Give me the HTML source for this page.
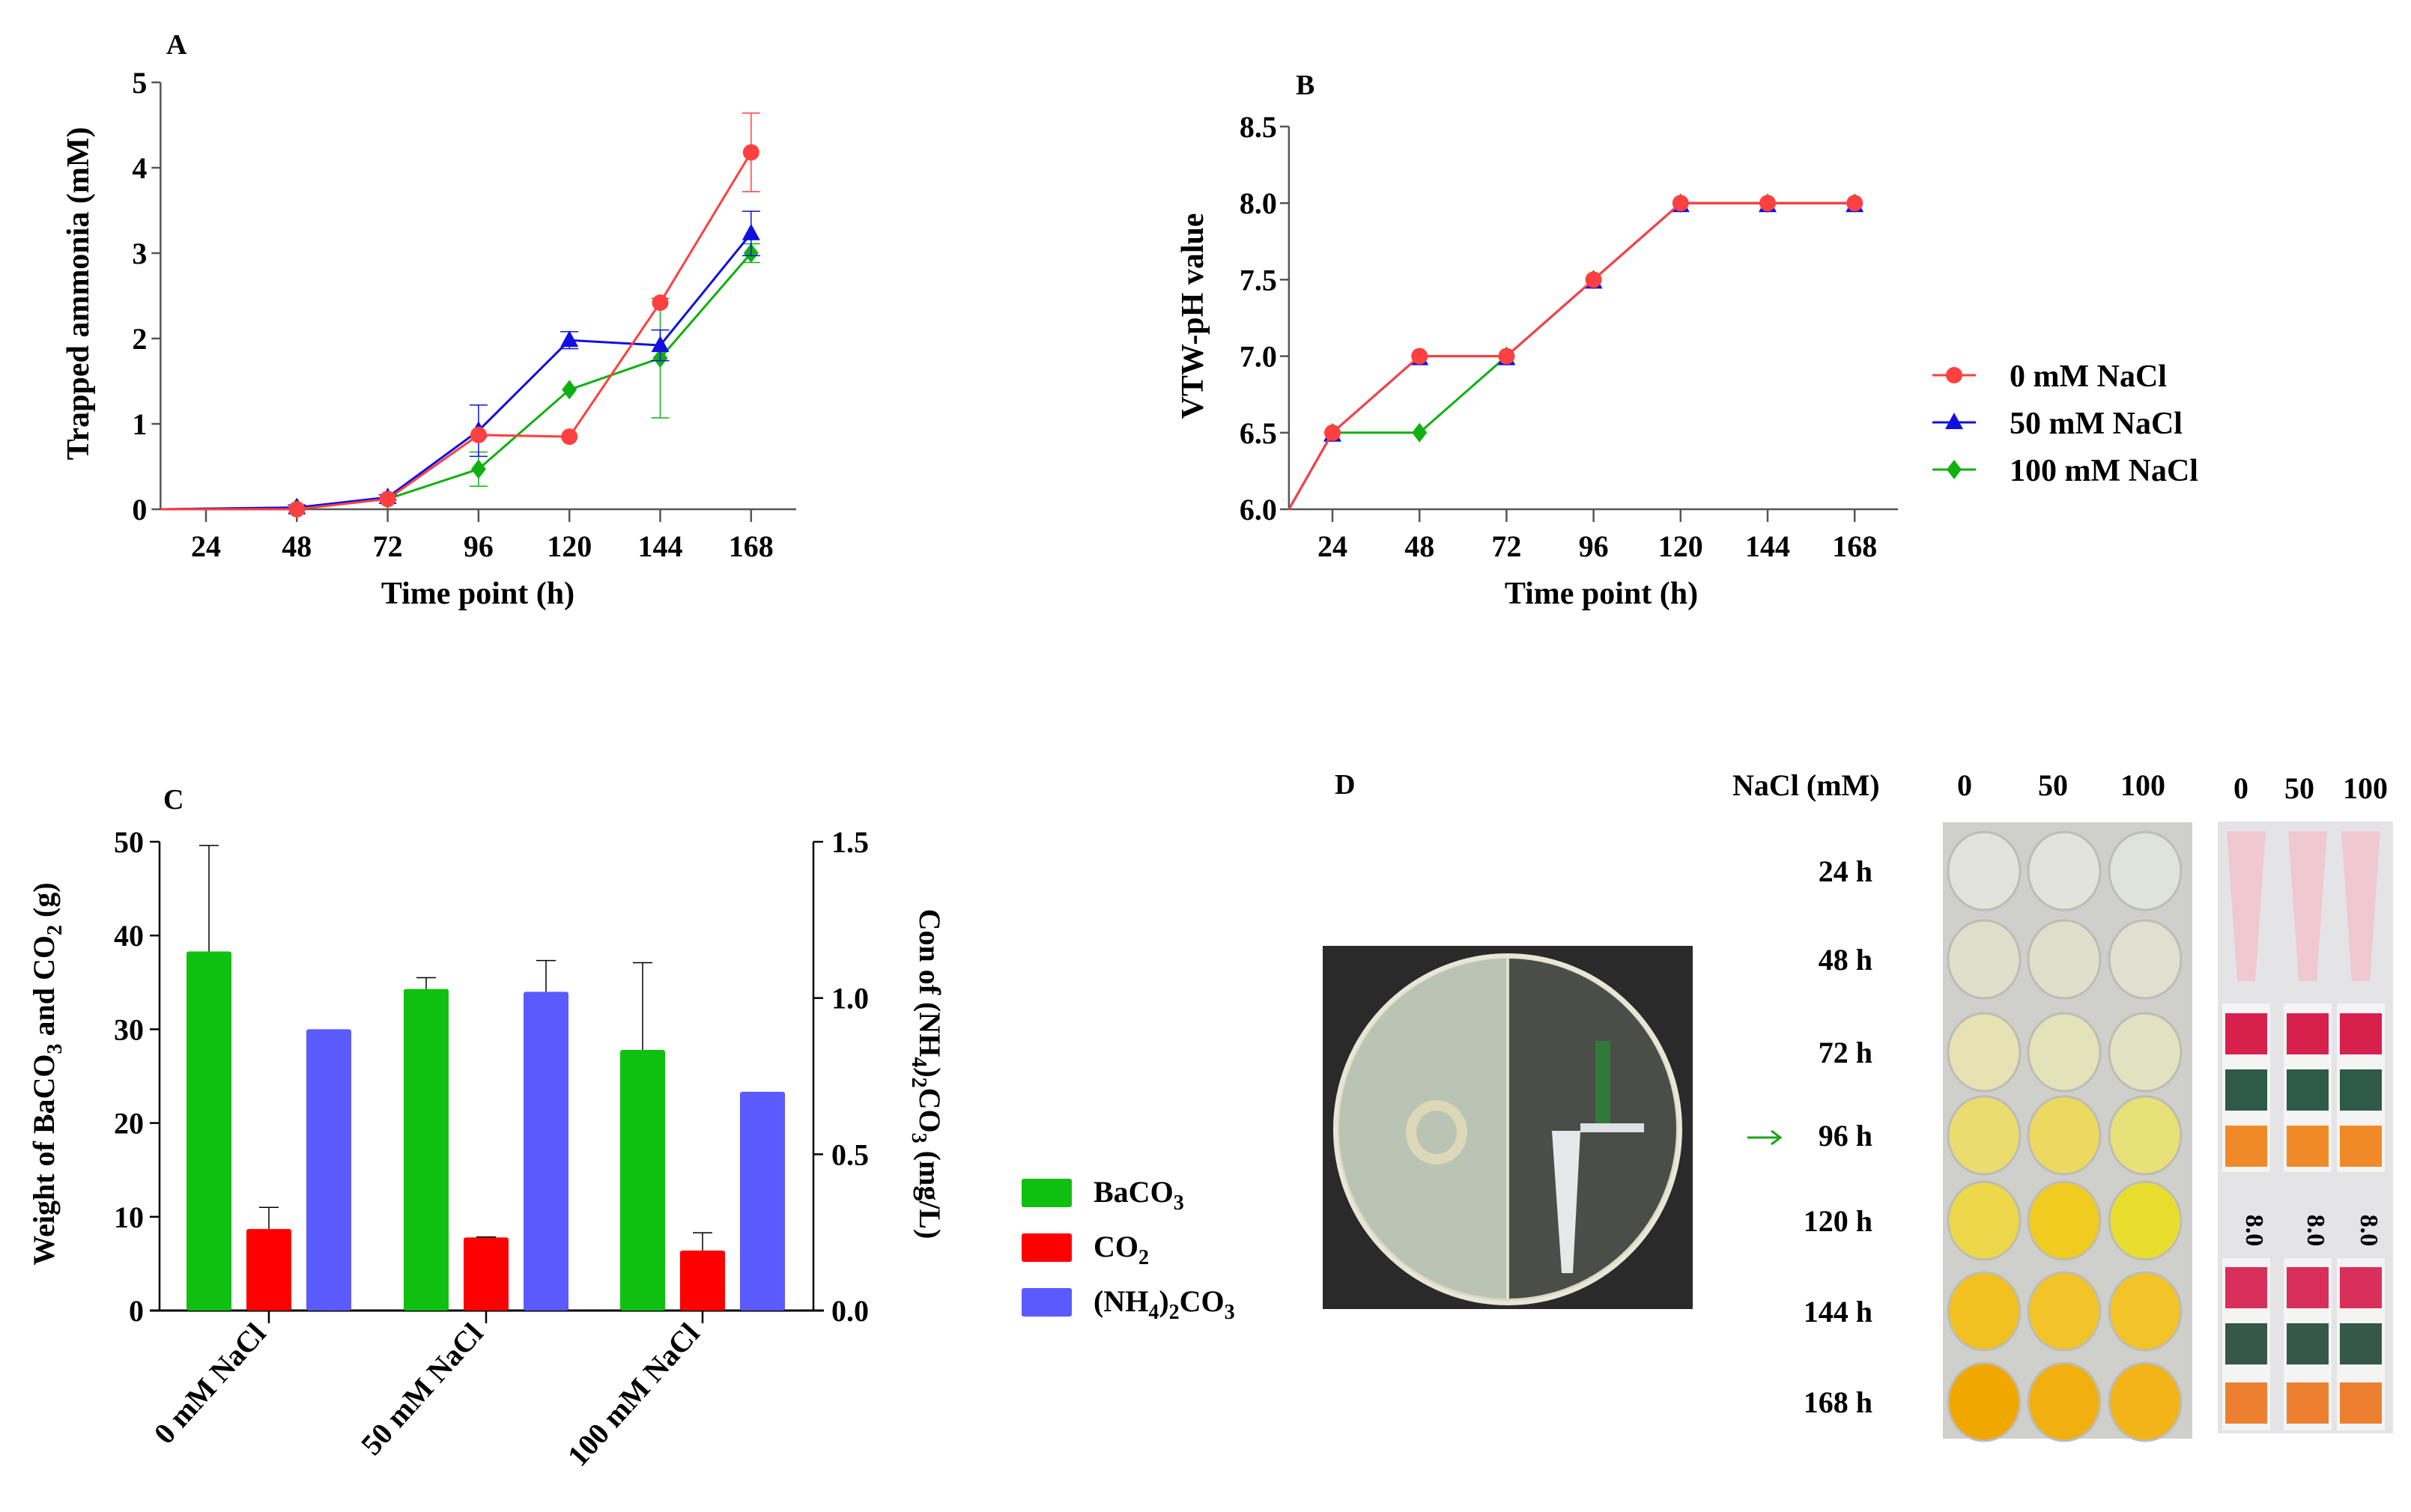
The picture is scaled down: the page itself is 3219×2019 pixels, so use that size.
<!DOCTYPE html>
<html><head><meta charset="utf-8">
<style>
html,body{margin:0;padding:0;background:#fff;}
body{width:3219px;height:2019px;position:relative;overflow:hidden;font-family:"Liberation Serif",serif;}
svg{position:absolute;left:0;top:0;}
text{font-family:"Liberation Serif",serif;font-weight:bold;fill:#000;}
</style></head>
<body>
<svg id="fig" width="3219" height="2019" viewBox="0 0 3219 2019" xmlns="http://www.w3.org/2000/svg">
  <text x="222" y="72" font-size="38">A</text>
  <text x="1730" y="126" font-size="38">B</text>
  <text x="218" y="1080" font-size="38">C</text>
  <text x="1782" y="1060" font-size="38">D</text>

  <g id="chartA"></g>
  <g id="chartB"></g>
  <g id="chartC"></g>

  <g id="panelD">
    <text x="2313" y="1062" font-size="40">NaCl (mM)</text>
    <text x="2623" y="1062" font-size="40" text-anchor="middle">0</text>
    <text x="2741" y="1062" font-size="40" text-anchor="middle">50</text>
    <text x="2861" y="1062" font-size="40" text-anchor="middle">100</text>
    <text x="2992" y="1066" font-size="40" text-anchor="middle">0</text>
    <text x="3070" y="1066" font-size="40" text-anchor="middle">50</text>
    <text x="3158" y="1066" font-size="40" text-anchor="middle">100</text>

    <g>
      <rect x="1766" y="1263" width="494" height="485" fill="#2a2a2a"/>
      <ellipse cx="2013" cy="1508" rx="230" ry="232" fill="#d8d8c4" stroke="#e8e6d6" stroke-width="6"/>
      <path d="M2013,1280 A224,226 0 0 0 2013,1734 Z" fill="#b9c4b4"/>
      <path d="M2013,1280 A224,226 0 0 1 2013,1734 Z" fill="#4a4d48"/>
      <line x1="2013" y1="1280" x2="2013" y2="1734" stroke="#e0e0d0" stroke-width="4"/>
      <ellipse cx="1918" cy="1512" rx="34" ry="36" fill="none" stroke="#ddd8b8" stroke-width="14"/>
      <rect x="2130" y="1390" width="20" height="120" fill="#2f7a3a"/>
      <path d="M2072,1510 L2110,1510 L2100,1700 L2085,1700 Z" fill="#e6e8ea"/>
      <rect x="2110" y="1500" width="85" height="12" fill="#dfe2e4"/>
    </g>

    <g>
      <line x1="2333" y1="1519" x2="2375" y2="1519" stroke="#1aa51a" stroke-width="3"/>
      <path d="M2365,1510 L2377,1519 L2365,1528" fill="none" stroke="#1aa51a" stroke-width="3"/>
    </g>

    <rect x="2594" y="1098" width="333" height="823" fill="#cfd0cc"/>
    <g id="wells"></g>
    <g id="rowlabels"></g>

    <rect x="2961" y="1097" width="234" height="817" fill="#e4e4e6"/>
    <g id="strips"></g>
  </g>
</svg>

<script>
const NS = "http://www.w3.org/2000/svg";
function mk(parent, tag, attrs) {
  const e = document.createElementNS(NS, tag);
  for (const k in attrs) e.setAttribute(k, attrs[k]);
  parent.appendChild(e);
  return e;
}
function txt(parent, x, y, s, size, anchor, extra) {
  const t = mk(parent, "text", Object.assign({x: x, y: y, "font-size": size, "text-anchor": anchor || "start"}, extra || {}));
  t.textContent = s;
  return t;
}

// ===== Panel A data =====
const hoursA = [48, 72, 96, 120, 144, 168];
const a0mM = [0.0, 0.12, 0.87, 0.85, 2.42, 4.18];
const a0mMErr = [0, 0.02, 0.0, 0.0, 0.0, 0.46];
const a50mM = [0.02, 0.14, 0.92, 1.98, 1.92, 3.23];
const a50mMErr = [0.03, 0.03, 0.30, 0.10, 0.18, 0.26];
const a100mM = [0.02, 0.12, 0.47, 1.40, 1.77, 3.00];
const a100mMErr = [0.02, 0.02, 0.20, 0.0, 0.70, 0.11];
const ticksAy = [0, 1, 2, 3, 4, 5];
const ticksAx = [24, 48, 72, 96, 120, 144, 168];

// ===== Panel B data =====
const hoursB = [24, 48, 72, 96, 120, 144, 168];
const b0mM = [6.5, 7.0, 7.0, 7.5, 8.0, 8.0, 8.0];
const b50mM = [6.5, 7.0, 7.0, 7.5, 8.0, 8.0, 8.0];
const b100mM = [6.5, 6.5, 7.0, 7.5, 8.0, 8.0, 8.0];
const ticksBy = [6.0, 6.5, 7.0, 7.5, 8.0, 8.5];
const ticksBx = [24, 48, 72, 96, 120, 144, 168];
const legendLabels = ["0 mM NaCl", "50 mM NaCl", "100 mM NaCl"];

// ===== Panel C data =====
const categoriesC = ["0 mM NaCl", "50 mM NaCl", "100 mM NaCl"];
const baco3 = [38.3, 34.3, 27.8];
const baco3Err = [11.3, 1.2, 9.3];
const co2 = [8.7, 7.8, 6.4];
const co2Err = [2.3, 0.05, 1.9];
const nh4co3 = [0.90, 1.02, 0.70];
const nh4co3Err = [0, 0.10, 0];
const ticksCl = [0, 10, 20, 30, 40, 50];
const ticksCr = [0.0, 0.5, 1.0, 1.5];

const RED = "#ff4040", BLUE = "#1010e0", GREEN = "#10b010";

function marker(g, type, x, y, color, name) {
  let m;
  if (type === "circle") m = mk(g, "circle", {cx: x, cy: y, r: 11, fill: color});
  else if (type === "tri") m = mk(g, "path", {d: `M${x},${y-13} L${x+12},${y+9} L${x-12},${y+9} Z`, fill: color});
  else m = mk(g, "path", {d: `M${x},${y-13} L${x+10},${y} L${x},${y+13} L${x-10},${y} Z`, fill: color});
  
  
  return m;
}

// ===== Chart A =====
(function () {
  const g = document.getElementById("chartA");
  const x = h => 275 + (h - 24) * 121.3 / 24;
  const y = v => 680 - v * 114;
  const x0 = x(12), y0 = y(0);
  const ax = "#555";
  mk(g, "line", {x1: x0, y1: y(5), x2: x0, y2: y0, stroke: ax, "stroke-width": 2.5});
  mk(g, "line", {x1: x0, y1: y0, x2: 1063, y2: y0, stroke: ax, "stroke-width": 2.5});
  ticksAy.forEach(v => {
    mk(g, "line", {x1: x0 - 12, y1: y(v), x2: x0, y2: y(v), stroke: ax, "stroke-width": 2.5});
    const t = txt(g, x0 - 18, y(v) + 14, String(v), 40, "end");
    
    
  });
  ticksAx.forEach(h => {
    mk(g, "line", {x1: x(h), y1: y0, x2: x(h), y2: y0 + 17, stroke: ax, "stroke-width": 2.5});
    const t = txt(g, x(h), 743, String(h), 40, "middle");
    
    
  });
  const xt = txt(g, 638, 806, "Time point (h)", 42, "middle");
  
  
  const yt = txt(g, 0, 0, "Trapped ammonia  (mM)", 42, "middle", {transform: "translate(118,392) rotate(-90)"});
  
  

  const series = [[a100mM, a100mMErr, GREEN, "diamond"], [a50mM, a50mMErr, BLUE, "tri"], [a0mM, a0mMErr, RED, "circle"]];
  const names = ["series-100mm", "series-50mm", "series-0mm"];
  series.forEach((s, si) => {
    const [vals, errs, col, mt] = s;
    const sg = mk(g, "g", {});
    
    
    let pts = `${x0},${y0} ` + hoursA.map((h, i) => `${x(h)},${y(vals[i])}`).join(" ");
    mk(sg, "polyline", {points: pts, fill: "none", stroke: col, "stroke-width": 3});
    hoursA.forEach((h, i) => {
      if (errs[i] > 0.02) {
        const hi = y(vals[i] + errs[i]), lo = y(Math.max(0, vals[i] - errs[i]));
        mk(sg, "line", {x1: x(h), y1: hi, x2: x(h), y2: lo, stroke: col, "stroke-width": 1.5});
        mk(sg, "line", {x1: x(h) - 12, y1: hi, x2: x(h) + 12, y2: hi, stroke: col, "stroke-width": 1.5});
        mk(sg, "line", {x1: x(h) - 12, y1: lo, x2: x(h) + 12, y2: lo, stroke: col, "stroke-width": 1.5});
      }
      marker(sg, mt, x(h), y(vals[i]), col, 'a-point');
    });
  });
})();

// ===== Chart B =====
(function () {
  const g = document.getElementById("chartB");
  const x = h => 1779 + (h - 24) * 116.2 / 24;
  const y = v => 680 - (v - 6) * 204.4;
  const x0 = x(12), y0 = y(6);
  const ax = "#555";
  mk(g, "line", {x1: x0, y1: y(8.5), x2: x0, y2: y0, stroke: ax, "stroke-width": 2.5});
  mk(g, "line", {x1: x0, y1: y0, x2: 2534, y2: y0, stroke: ax, "stroke-width": 2.5});
  ticksBy.forEach(v => {
    mk(g, "line", {x1: x0 - 12, y1: y(v), x2: x0, y2: y(v), stroke: ax, "stroke-width": 2.5});
    const t = txt(g, x0 - 16, y(v) + 14, v.toFixed(1), 40, "end");
    
    
  });
  ticksBx.forEach(h => {
    mk(g, "line", {x1: x(h), y1: y0, x2: x(h), y2: y0 + 17, stroke: ax, "stroke-width": 2.5});
    const t = txt(g, x(h), 743, String(h), 40, "middle");
    
    
  });
  const xt = txt(g, 2138, 806, "Time point (h)", 42, "middle");
  
  
  const yt = txt(g, 0, 0, "VTW-pH value", 42, "middle", {transform: "translate(1606,422) rotate(-90)"});
  
  

  const series = [[b100mM, GREEN, "diamond"], [b50mM, BLUE, "tri"], [b0mM, RED, "circle"]];
  const names = ["series-100mm", "series-50mm", "series-0mm"];
  series.forEach((s, si) => {
    const [vals, col, mt] = s;
    const sg = mk(g, "g", {});
    
    
    let pts = `${x0},${y0} ` + hoursB.map((h, i) => `${x(h)},${y(vals[i])}`).join(" ");
    mk(sg, "polyline", {points: pts, fill: "none", stroke: col, "stroke-width": 3});
    hoursB.forEach((h, i) => marker(sg, mt, x(h), y(vals[i]) + (mt === "tri" ? 3 : 0), col, 'b-point'));
  });

  const cols = [RED, BLUE, GREEN], mts = ["circle", "tri", "diamond"];
  legendLabels.forEach((lab, i) => {
    const ly = 501 + i * 63;
    const lg = mk(g, "g", {});
    
    
    mk(lg, "line", {x1: 2580, y1: ly, x2: 2638, y2: ly, stroke: cols[i], "stroke-width": 3});
    marker(lg, mts[i], 2609, ly, cols[i], 'legend-marker');
    txt(lg, 2683, ly + 15, lab, 42, "start");
  });
})();

// ===== Chart C =====
(function () {
  const g = document.getElementById("chartC");
  const yL = v => 1750 - v * 12.52;
  const yR = v => 1750 - v * 417.3;
  const groupX = [359, 649, 938];
  const bw = 60, off = [-80, 0, 80];
  mk(g, "line", {x1: 213, y1: yL(50), x2: 213, y2: 1750, stroke: "#000", "stroke-width": 2.5});
  mk(g, "line", {x1: 1086, y1: yR(1.5), x2: 1086, y2: 1750, stroke: "#000", "stroke-width": 2.5});
  mk(g, "line", {x1: 200, y1: 1750, x2: 1100, y2: 1750, stroke: "#000", "stroke-width": 3});
  ticksCl.forEach(v => {
    mk(g, "line", {x1: 200, y1: yL(v), x2: 213, y2: yL(v), stroke: "#000", "stroke-width": 2.5});
    const t = txt(g, 192, yL(v) + 14, String(v), 40, "end");
    
    
  });
  ticksCr.forEach(v => {
    mk(g, "line", {x1: 1086, y1: yR(v), x2: 1099, y2: yR(v), stroke: "#000", "stroke-width": 2.5});
    const t = txt(g, 1110, yR(v) + 14, v.toFixed(1), 40, "start");
    
    
  });
  const series = [[baco3, baco3Err, yL, "#10c010", "bar-baco3"], [co2, co2Err, yL, "#ff0000", "bar-co2"], [nh4co3, nh4co3Err, yR, "#5a5aff", "bar-nh4-2co3"]];
  series.forEach((s, si) => {
    const [vals, errs, sc, col, nm] = s;
    vals.forEach((v, i) => {
      const cx = groupX[i] + off[si];
      const r = mk(g, "rect", {x: cx - bw / 2, y: sc(v), width: bw, height: 1750 - sc(v), fill: col, rx: 3});
      
      
      if (errs[i] > 0) {
        const top = sc(v + errs[i]);
        mk(g, "line", {x1: cx, y1: sc(v), x2: cx, y2: top, stroke: "#000", "stroke-width": 1.5});
        mk(g, "line", {x1: cx - 13, y1: top, x2: cx + 13, y2: top, stroke: "#000", "stroke-width": 1.5});
      }
    });
  });
  categoriesC.forEach((c, i) => {
    mk(g, "line", {x1: groupX[i], y1: 1750, x2: groupX[i], y2: 1767, stroke: "#000", "stroke-width": 2.5});
    const t = txt(g, 0, 0, c, 40, "end", {transform: `translate(${groupX[i] - 2},${1782}) rotate(-48)`});
    
    
  });
  const yl = mk(g, "text", {"font-size": 40, "text-anchor": "middle", transform: "translate(72,1434) rotate(-90)"});
  
  
  yl.innerHTML = 'Weight of BaCO<tspan font-size="28" dy="10">3</tspan><tspan dy="-10"> and CO</tspan><tspan font-size="28" dy="10">2</tspan><tspan dy="-10"> (g)</tspan>';
  const yr = mk(g, "text", {"font-size": 40, "text-anchor": "middle", transform: "translate(1228,1434) rotate(90)"});
  
  
  yr.innerHTML = 'Con of (NH<tspan font-size="28" dy="10">4</tspan><tspan dy="-10">)</tspan><tspan font-size="28" dy="10">2</tspan><tspan dy="-10">CO</tspan><tspan font-size="28" dy="10">3</tspan><tspan dy="-10"> (mg/L)</tspan>';
  const legCols = ["#10c010", "#ff0000", "#5a5aff"];
  const legHtml = ['BaCO<tspan font-size="28" dy="10">3</tspan>', 'CO<tspan font-size="28" dy="10">2</tspan>', '(NH<tspan font-size="28" dy="10">4</tspan><tspan dy="-10">)</tspan><tspan font-size="28" dy="10">2</tspan><tspan dy="-10">CO</tspan><tspan font-size="28" dy="10">3</tspan>'];
  legHtml.forEach((h, i) => {
    const ly = 1593 + i * 73;
    const lg = mk(g, "g", {});
    
    
    mk(lg, "rect", {x: 1364, y: ly - 19, width: 67, height: 38, fill: legCols[i], rx: 3});
    const t = mk(lg, "text", {x: 1460, y: ly + 12, "font-size": 40});
    t.setAttribute('font-weight', 'normal');
    t.innerHTML = h;
  });
})();

// ===== Panel D wells =====
const rowLabels = ["24 h", "48 h", "72 h", "96 h", "120 h", "144 h", "168 h"];
const wellColors = [
  ["#e2e4dc", "#e2e4dc", "#e0e2dc"],
  ["#dfe0cc", "#dfe0cc", "#e0e0d0"],
  ["#e6e2b4", "#e4e2b8", "#e2e2c2"],
  ["#ebdc70", "#ecda60", "#e8e078"],
  ["#ecd84a", "#f0cc20", "#e8de30"],
  ["#f2c020", "#f2c428", "#f2c428"],
  ["#f0a800", "#f2b010", "#f2b418"]
];
(function () {
  const wg = document.getElementById("wells");
  const rg = document.getElementById("rowlabels");
  const colX = [2649, 2756, 2864];
  const rowY = [1163, 1281, 1405, 1516, 1630, 1751, 1872];
  rowLabels.forEach((lab, r) => {
    const t = txt(rg, 2500, rowY[r] + 14, lab, 40, "end");
    
    
    colX.forEach((cx, c) => {
      const w = mk(wg, "ellipse", {cx: cx, cy: rowY[r], rx: 48, ry: 52, fill: wellColors[r][c], stroke: "#bdbdb5", "stroke-width": 3});
      
      
    });
  });
  const sg = document.getElementById("strips");
  const stripX = [2971, 3053, 3124];
  stripX.forEach((sx, i) => {
    const tube = mk(sg, "path", {d: `M${sx + 2},1110 L${sx + 54},1110 L${sx + 40},1310 L${sx + 16},1310 Z`, fill: "#f0c8d0"});
    
    
    mk(sg, "rect", {x: sx - 4, y: 1340, width: 64, height: 225, fill: "#f4f4f4"});
    mk(sg, "rect", {x: sx - 4, y: 1680, width: 64, height: 230, fill: "#f4f4f4"});
    [[1353, "#d8204c"], [1428, "#2e5a48"], [1503, "#f08a28"], [1692, "#d8305a"], [1767, "#36584a"], [1846, "#ec8030"]].forEach(p => {
      const pad = mk(sg, "rect", {x: sx, y: p[0], width: 56, height: 55, fill: p[1]});
      
      
    });
    const t = txt(sg, 0, 0, "8.0", 34, "middle", {transform: `translate(${sx + 28},1643) rotate(90)`, "font-weight": "normal", fill: "#4060a0"});
    
    
  });
})();
</script>
</body></html>
